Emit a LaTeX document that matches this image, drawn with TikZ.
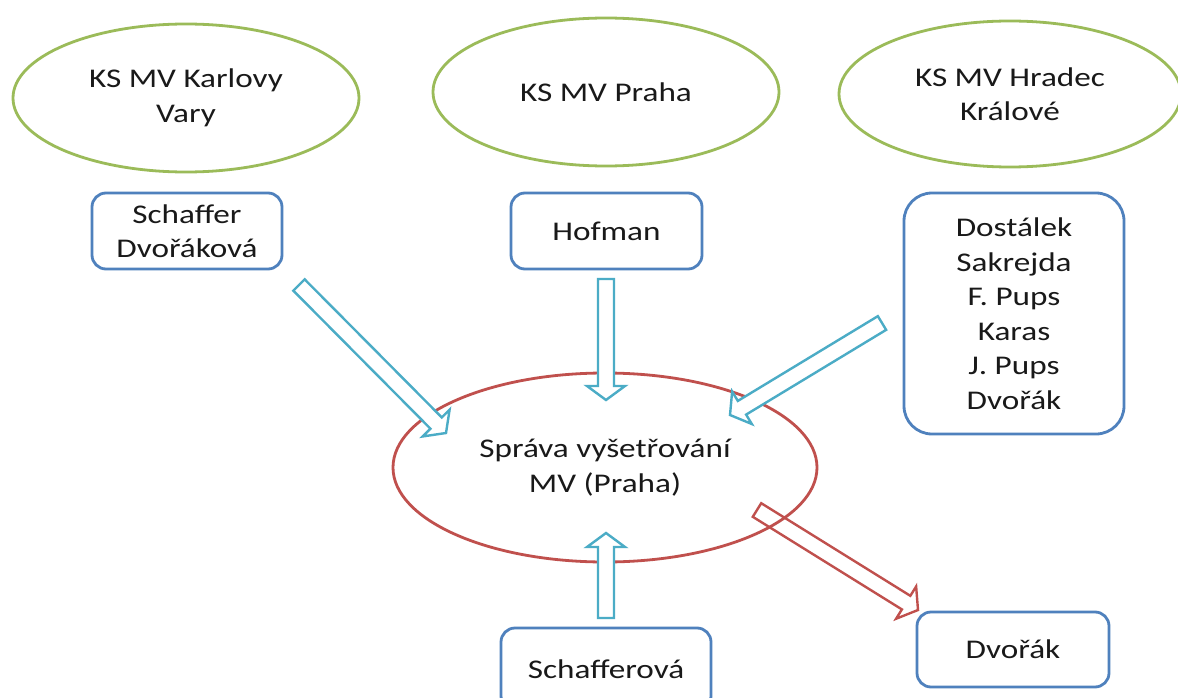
\documentclass[tikz,border=0pt]{standalone}
\usepackage{fontspec}
\setmainfont{Carlito}[FakeStretch=1.23]
\usetikzlibrary{calc,shapes.geometric}
\definecolor{olivegreen}{HTML}{9BBB59}
\definecolor{boxblue}{HTML}{4F81BD}
\definecolor{ovalred}{HTML}{C0504D}
\definecolor{aqua}{HTML}{4BACC6}
\newcommand\shw{8pt}
\newcommand\hhw{19pt}
\newcommand\hlen{14pt}
\newcommand\blockarr[3][]{%
  \coordinate (ba-c) at ($(#3)!\hlen!(#2)$);
  \draw[#1] ($(#2)!\shw!-90:(#3)$) -- ($(ba-c)!\shw!90:(#2)$) -- ($(ba-c)!\hhw!90:(#2)$) -- (#3)
    -- ($(ba-c)!\hhw!-90:(#2)$) -- ($(ba-c)!\shw!-90:(#2)$) -- ($(#2)!\shw!90:(#3)$) -- cycle;}
\tikzset{
  txt/.style={font=\fontsize{27}{34.5}\selectfont, text=black!90, align=center, inner sep=0pt},
  greenoval/.style={txt, ellipse, draw=olivegreen, line width=2.8pt},
  redoval/.style={txt, ellipse, draw=ovalred, line width=2.8pt},
  bluebox/.style={txt, rectangle, rounded corners=14pt, draw=boxblue, line width=2.8pt, fill=white},
  bluearrow/.style={draw=aqua, line width=2.4pt, fill=white, line join=miter},
  redarrow/.style={draw=ovalred, line width=2.4pt, line join=miter},
}
\begin{document}
\begin{tikzpicture}[x=1pt, y=-1pt]
\useasboundingbox (0,0) rectangle (1178,698);
\clip (0,0) rectangle (1178,698);
\fill[white] (0,0) rectangle (1178,698);
% top ovals
\node[greenoval, minimum width=346pt, minimum height=148pt] (kv) at (186,98) {KS MV Karlovy\\Vary};
\node[greenoval, minimum width=346pt, minimum height=148pt] (pr) at (606,92) {KS MV Praha};
\node[greenoval, minimum width=342pt, minimum height=146pt] (hk) at (1010,94) {KS MV Hradec\\Králové};
% boxes
\node[bluebox, minimum width=190pt, minimum height=76pt] (sd) at (187,231) {Schaffer\\Dvořáková};
\node[bluebox, minimum width=191pt, minimum height=76pt] (hof) at (606.5,231) {Hofman};
\node[bluebox, rounded corners=28pt, minimum width=220pt, minimum height=241pt] (dos) at (1014,313.5)
  {Dostálek\\Sakrejda\\F. Pups\\Karas\\J. Pups\\Dvořák};
% central oval
\node[redoval, minimum width=424pt, minimum height=189pt] (sv) at (605,467.5) {Správa vyšetřování\\MV (Praha)};
% bottom boxes
\node[bluebox, minimum width=210pt, minimum height=82pt] (sch) at (606,669) {Schafferová};
\node[bluebox, minimum width=192pt, minimum height=75pt] (dv) at (1013,649.5) {Dvořák};
% arrow end points
\coordinate (a1s) at (299,285);  \coordinate (a1e) at (446,433);
\coordinate (a2s) at (606,279);  \coordinate (a2e) at (606,400);
\coordinate (a3s) at (882,323);  \coordinate (a3e) at (730,415);
\coordinate (a4s) at (606,618);  \coordinate (a4e) at (606,533);
\coordinate (a5s) at (757,510);  \coordinate (a5e) at (918,610);
\blockarr[bluearrow]{a1s}{a1e}
\blockarr[bluearrow]{a2s}{a2e}
\blockarr[bluearrow]{a3s}{a3e}
\blockarr[bluearrow]{a4s}{a4e}
\blockarr[redarrow]{a5s}{a5e}
\end{tikzpicture}
\end{document}
